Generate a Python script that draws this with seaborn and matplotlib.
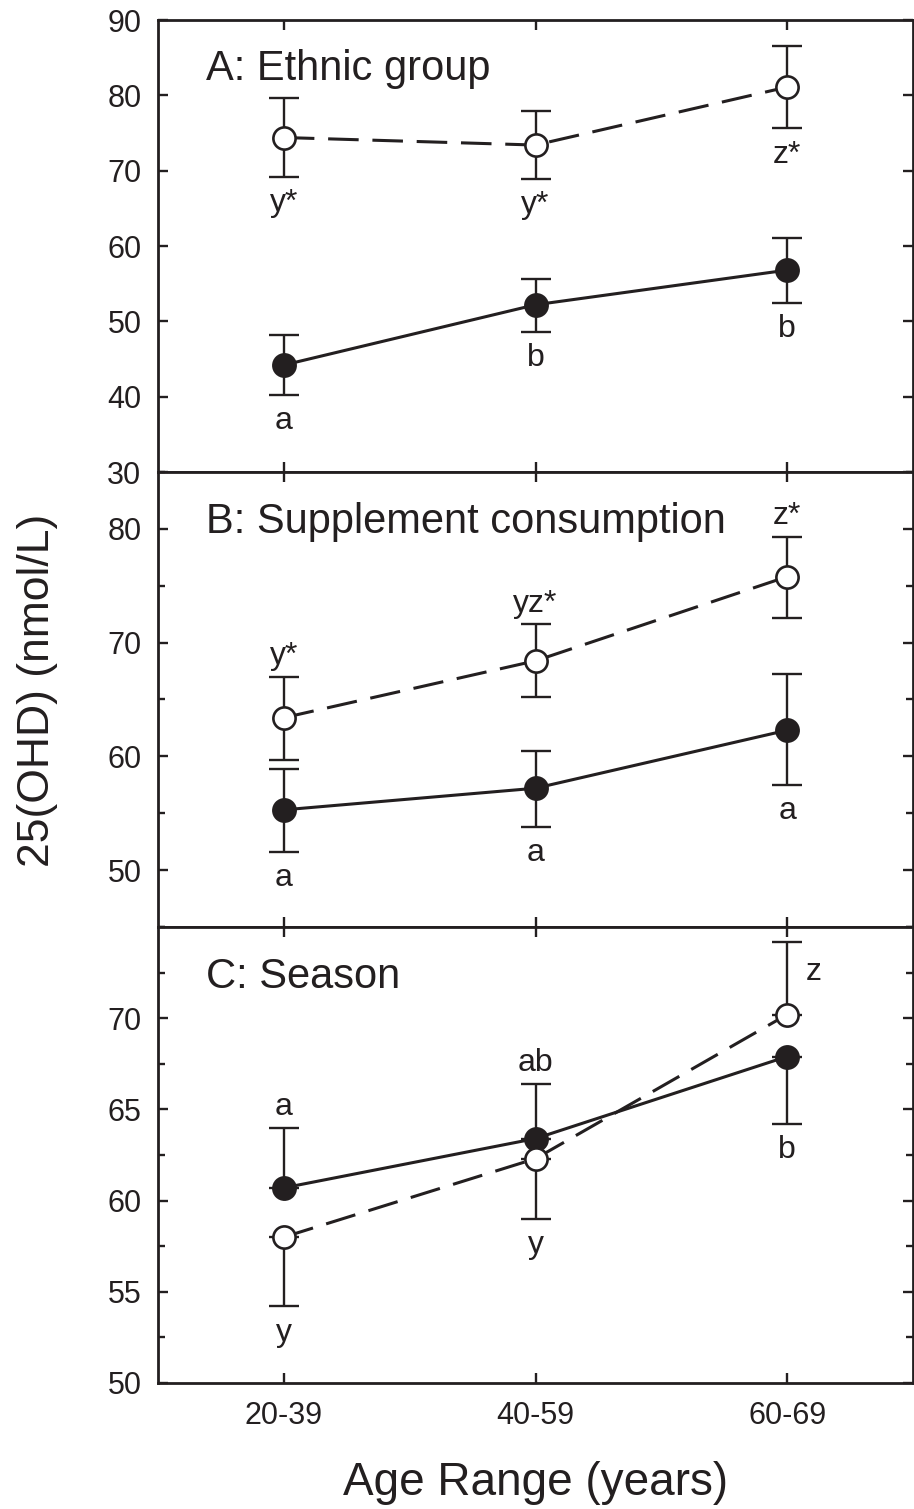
import numpy as np
import pandas as pd
import matplotlib
matplotlib.use("Agg")
import matplotlib.pyplot as plt
from matplotlib.ticker import MultipleLocator
import seaborn as sns

# ---------------- data ----------------
ages = ["20-39", "40-59", "60-69"]

a_filled = [44.2, 52.2, 56.8]
a_filled_lo = [4.0, 3.6, 4.3]
a_filled_hi = [4.0, 3.4, 4.3]
a_open = [74.4, 73.4, 81.1]
a_open_lo = [5.2, 4.5, 5.5]
a_open_hi = [5.2, 4.5, 5.4]
a_filled_lab = ["a", "b", "b"]
a_open_lab = ["y*", "y*", "z*"]

b_filled = [55.3, 57.2, 62.3]
b_filled_lo = [3.7, 3.4, 4.8]
b_filled_hi = [3.6, 3.3, 4.9]
b_open = [63.4, 68.4, 75.8]
b_open_lo = [3.7, 3.2, 3.6]
b_open_hi = [3.6, 3.2, 3.5]
b_filled_lab = ["a", "a", "a"]
b_open_lab = ["y*", "yz*", "z*"]

c_filled = [60.7, 63.4, 67.9]
c_filled_lo = [0.0, 0.0, 3.7]
c_filled_hi = [3.3, 3.0, 0.0]
c_open = [58.0, 62.3, 70.2]
c_open_lo = [3.8, 3.3, 0.0]
c_open_hi = [0.0, 0.0, 4.0]
c_filled_lab = ["a", "ab", "b"]
c_open_lab = ["y", "y", "z"]

panel_titles = ["A: Ethnic group", "B: Supplement consumption", "C: Season"]
xlabel = "Age Range (years)"
ylabel = "25(OHD) (nmol/L)"

# ---------------- style ----------------
sns.set_theme(style="ticks")
plt.rcParams["font.family"] = ["Liberation Sans", "DejaVu Sans"]
INK = "#231f20"
plt.rcParams["text.color"] = INK
plt.rcParams["axes.edgecolor"] = INK
plt.rcParams["xtick.color"] = INK
plt.rcParams["ytick.color"] = INK

W, H = 914, 1509
fig = plt.figure(figsize=(W / 100, H / 100), dpi=100)

left_px, right_px = 158, 913
panels_px = [(20, 472), (472, 927), (927, 1383)]


def add_ax(top, bot):
    return fig.add_axes([left_px / W, 1 - bot / H, (right_px - left_px) / W, (bot - top) / H])


LW = 2.2
MS = 16
DASH = (0, (10, 4.5))
ANN = 23


def draw_series(ax, vals, lo, hi, filled, dashed):
    ax.errorbar(ages, vals, yerr=[lo, hi], fmt="none", ecolor=INK,
                elinewidth=1.7, capsize=11, capthick=1.7, zorder=2)
    sns.lineplot(x=ages, y=vals, ax=ax, color=INK, linewidth=LW,
                 linestyle=DASH if dashed else "-",
                 marker="o", markersize=MS,
                 markerfacecolor=INK if filled else "white",
                 markeredgecolor=INK, markeredgewidth=1.9,
                 zorder=4 if not filled else 3, legend=False)


def annotate(ax, vals, lo, hi, labels, where):
    for i, (v, l, h, t) in enumerate(zip(vals, lo, hi, labels)):
        w = where[i]
        if w == "above":
            ax.annotate(t, (i, v + h), xytext=(0, 4), textcoords="offset points",
                        ha="center", va="bottom", fontsize=ANN, color=INK)
        elif w == "below":
            ax.annotate(t, (i, v - l), xytext=(0, -8), textcoords="offset points",
                        ha="center", va="top", fontsize=ANN, color=INK)
        elif w == "right":
            ax.annotate(t, (i, v + h), xytext=(19, -22), textcoords="offset points",
                        ha="center", va="center", fontsize=ANN, color=INK)


specs = [
    dict(ylim=(30, 90), ticks=[30, 40, 50, 60, 70, 80, 90], minor=None,
         f=(a_filled, a_filled_lo, a_filled_hi, a_filled_lab, ["below"] * 3),
         o=(a_open, a_open_lo, a_open_hi, a_open_lab, ["below"] * 3)),
    dict(ylim=(45, 85), ticks=[50, 60, 70, 80], minor=5,
         f=(b_filled, b_filled_lo, b_filled_hi, b_filled_lab, ["below"] * 3),
         o=(b_open, b_open_lo, b_open_hi, b_open_lab, ["above"] * 3)),
    dict(ylim=(50, 75), ticks=[50, 55, 60, 65, 70], minor=2.5,
         f=(c_filled, c_filled_lo, c_filled_hi, c_filled_lab, ["above", "above", "below"]),
         o=(c_open, c_open_lo, c_open_hi, c_open_lab, ["below", "below", "right"])),
]

for k, ((top, bot), sp) in enumerate(zip(panels_px, specs)):
    ax = add_ax(top, bot)
    fv, fl, fh, flab, fw = sp["f"]
    ov, ol, oh, olab, ow = sp["o"]
    draw_series(ax, fv, fl, fh, filled=True, dashed=False)
    draw_series(ax, ov, ol, oh, filled=False, dashed=True)
    annotate(ax, fv, fl, fh, flab, fw)
    annotate(ax, ov, ol, oh, olab, ow)

    ax.set_xlim(-0.5, 2.5)
    ax.set_ylim(*sp["ylim"])
    ax.set_yticks(sp["ticks"])
    ax.set_yticklabels([str(t) for t in sp["ticks"]])
    if sp["minor"]:
        ax.yaxis.set_minor_locator(MultipleLocator(sp["minor"]))
    ax.set_xticks(range(len(ages)))
    ax.set_xticklabels(ages if k == 2 else [""] * 3)
    ax.tick_params(axis="both", which="major", direction="in", length=7.5, width=1.7,
                   top=True, right=True, bottom=True, left=True, labelsize=22, colors=INK)
    ax.tick_params(axis="y", which="major", pad=12)
    ax.tick_params(axis="x", which="major", pad=13)
    ax.tick_params(axis="y", which="minor", direction="in", length=5, width=1.7,
                   left=True, right=True)
    ax.tick_params(axis="x", which="minor", bottom=False, top=False)
    for s in ax.spines.values():
        s.set_linewidth(2.0)
        s.set_color(INK)
        s.set_visible(True)
    ax.set_xlabel("")
    ax.set_ylabel("")
    ax.text(0.064, 0.867, panel_titles[k], transform=ax.transAxes,
            fontsize=30, ha="left", va="baseline", color=INK)

fig.text(38 / W, 1 - 690 / H, ylabel, rotation=90, fontsize=32,
         ha="center", va="center", color=INK)
fig.text(536 / W, 1 - 1495 / H, xlabel, fontsize=33,
         ha="center", va="baseline", color=INK)

fig.savefig("out.png", dpi=100)
